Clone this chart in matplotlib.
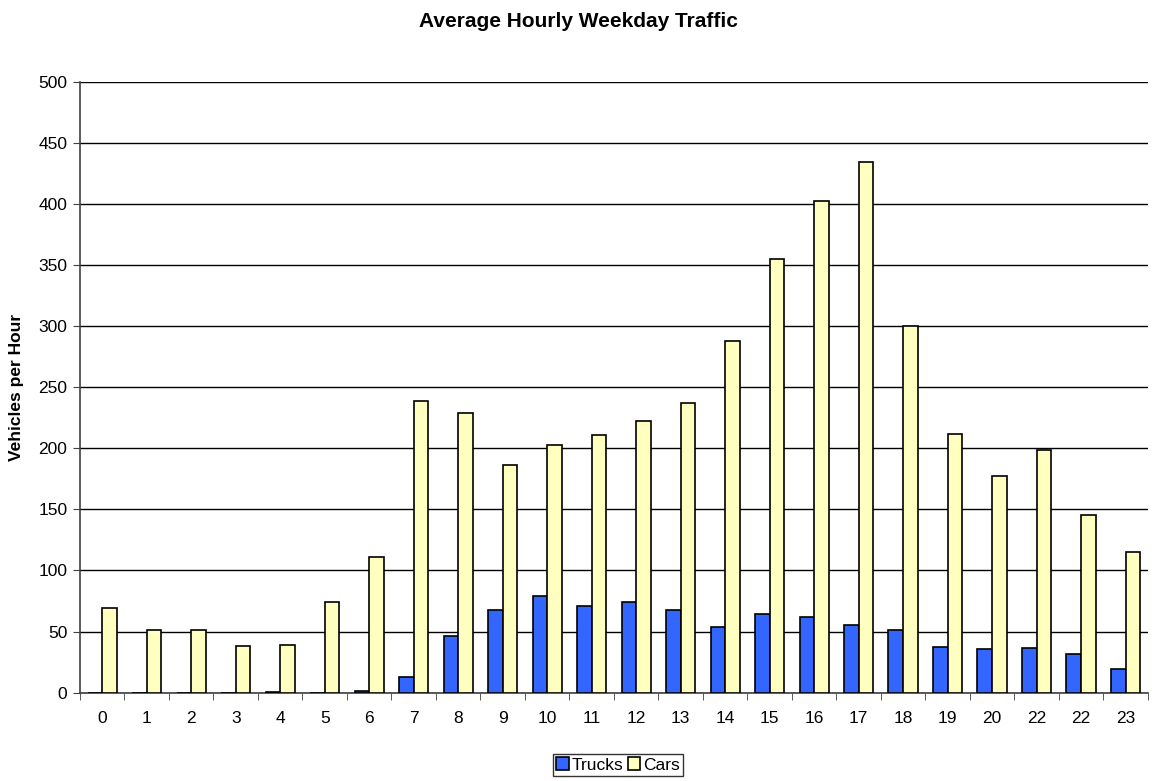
import numpy as np
import matplotlib.pyplot as plt
from matplotlib.ticker import MultipleLocator

plt.rcParams['font.family'] = ['Liberation Sans', 'DejaVu Sans']

hours = ['0', '1', '2', '3', '4', '5', '6', '7', '8', '9', '10', '11',
         '12', '13', '14', '15', '16', '17', '18', '19', '20', '22', '22', '23']
trucks = [0, 0, 0, 0, 0.3, 0, 1.2, 13, 46, 68, 79, 71,
          74, 68, 54, 64.5, 62, 55.5, 51.5, 37.5, 36, 36.5, 32, 19]
cars = [69, 51.5, 51.5, 38.5, 39, 74.5, 111, 239, 229, 186, 203, 211,
        222, 237, 288, 355, 402, 434, 300, 212, 177, 199, 145, 115]

fig = plt.figure(figsize=(11.56, 7.81), dpi=100)
ax = fig.add_axes([0.0692, 0.1131, 0.9238, 0.7823])

x = np.arange(len(hours))
w = 0.33
ax.bar(x - w / 2, trucks, w, color='#3366FF', edgecolor='black', linewidth=1.2, label='Trucks', zorder=3)
ax.bar(x + w / 2, cars, w, color='#FFFFC0', edgecolor='black', linewidth=1.2, label='Cars', zorder=3)

ax.set_xlim(-0.5, len(hours) - 0.5)
ax.set_ylim(0, 500)
ax.yaxis.set_major_locator(MultipleLocator(50))
ax.set_xticks(x)
ax.set_xticklabels(hours)
ax.set_xticks(np.arange(-0.5, len(hours), 1), minor=True)
ax.tick_params(axis='x', which='major', length=0, pad=13, labelsize=12.5)
ax.tick_params(axis='x', which='minor', length=5, color='#404040')
ax.tick_params(axis='y', length=5, color='#404040', labelsize=12.5, pad=4)

ax.grid(axis='y', color='black', linewidth=1, zorder=0)
for s in ['top', 'right']:
    ax.spines[s].set_visible(False)
for s in ['left', 'bottom']:
    ax.spines[s].set_color('#404040')
    ax.spines[s].set_linewidth(1.2)

ax.set_ylabel('Vehicles per Hour', fontweight='bold', fontsize=12.5, labelpad=10)
fig.suptitle('Average Hourly Weekday Traffic', fontweight='bold', fontsize=15, y=0.985)

fig.legend(loc='center', bbox_to_anchor=(0.5346, 0.0205), ncol=2, fontsize=12.5,
           frameon=True, fancybox=False, edgecolor='black', handlelength=0.7,
           handleheight=0.7, handletextpad=0.15, columnspacing=0.3,
           borderpad=0.2, borderaxespad=0)

fig.savefig('out.png', dpi=100)
